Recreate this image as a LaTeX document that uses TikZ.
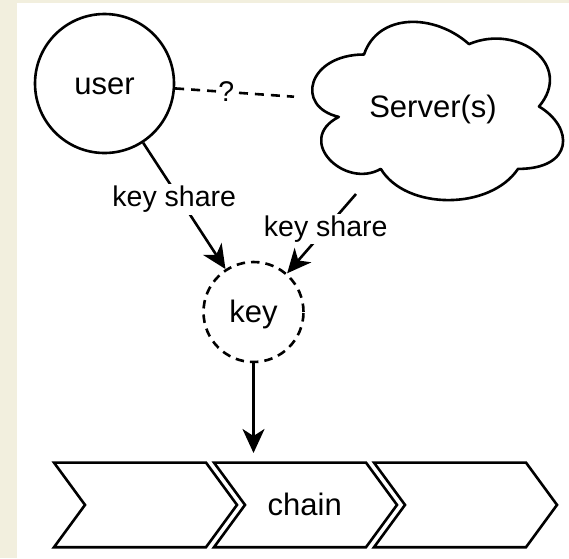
\documentclass[tikz,border=0pt]{standalone}
\usepackage{fontspec}
\setmainfont{Liberation Sans}
\usetikzlibrary{arrows.meta}
\definecolor{beige}{RGB}{242,239,222}
\begin{document}
\begin{tikzpicture}[x=1pt,y=-1pt,
  shp/.style={draw=black, line width=2.6pt},
  mainlbl/.style={font=\fontsize{31}{37}\selectfont, text height=28pt, text depth=6.6pt, inner sep=0pt},
  edgelbl/.style={font=\fontsize{28.5}{34}\selectfont, fill=white, inner sep=2pt},
  arr/.style={line width=2.6pt, -{Stealth[length=24pt,width=22pt,inset=7pt]}},
  dashline/.style={line width=2.6pt, dash pattern=on 9pt off 7pt},
  keydash/.style={line width=2.6pt, dash pattern=on 8.5pt off 6pt},
]
\useasboundingbox (0,0) rectangle (569,558);
\fill[beige] (0,0) rectangle (569,558);
\fill[white] (16.7,3) rectangle (569,558);
% user
\node[circle, shp, mainlbl, minimum size=139pt] (user) at (104.5,83.5) {user};
% key
\node[circle, draw=black, keydash, mainlbl, minimum size=100pt] (key) at (253.5,312) {key};
% cloud
\begin{scope}[shift={(294,2.5)}, x=280pt, y=-208pt]
\draw[shp, line join=round] (0.25,0.25)
  .. controls (0.05,0.25) and (0,0.5) .. (0.16,0.55)
  .. controls (0,0.66) and (0.18,0.9) .. (0.31,0.8)
  .. controls (0.4,1) and (0.7,1) .. (0.8,0.8)
  .. controls (1,0.8) and (1,0.6) .. (0.875,0.5)
  .. controls (1,0.3) and (0.8,0.1) .. (0.625,0.2)
  .. controls (0.5,0.05) and (0.3,0.05) .. (0.25,0.25) -- cycle;
\end{scope}
\node[mainlbl] (server) at (433,106.5) {Server(s)};
\coordinate (cs) at (356,194);
\coordinate (ce) at (294,96.7);
% chevrons
\foreach \L in {54,214,374}
  \draw[shp, line join=miter] (\L,462.6) -- (\L+152,462.6) -- (\L+183,504.9) -- (\L+152,547.2) -- (\L,547.2) -- (\L+31,504.9) -- cycle;
\node[mainlbl] (chain) at (304.75,504.9) {chain};
\coordinate (chtop) at (253.5,453);
% connectors
\draw[dashline] (user) -- node[edgelbl, pos=0.43, inner sep=1pt]{?} (ce);
\draw[arr] (user) -- node[edgelbl, pos=0.45, xshift=-6pt]{key share} (key);
\draw[arr] (cs) -- node[edgelbl, pos=0.44]{key share} (key);
\draw[arr] (key) -- (chtop);
\end{tikzpicture}
\end{document}
